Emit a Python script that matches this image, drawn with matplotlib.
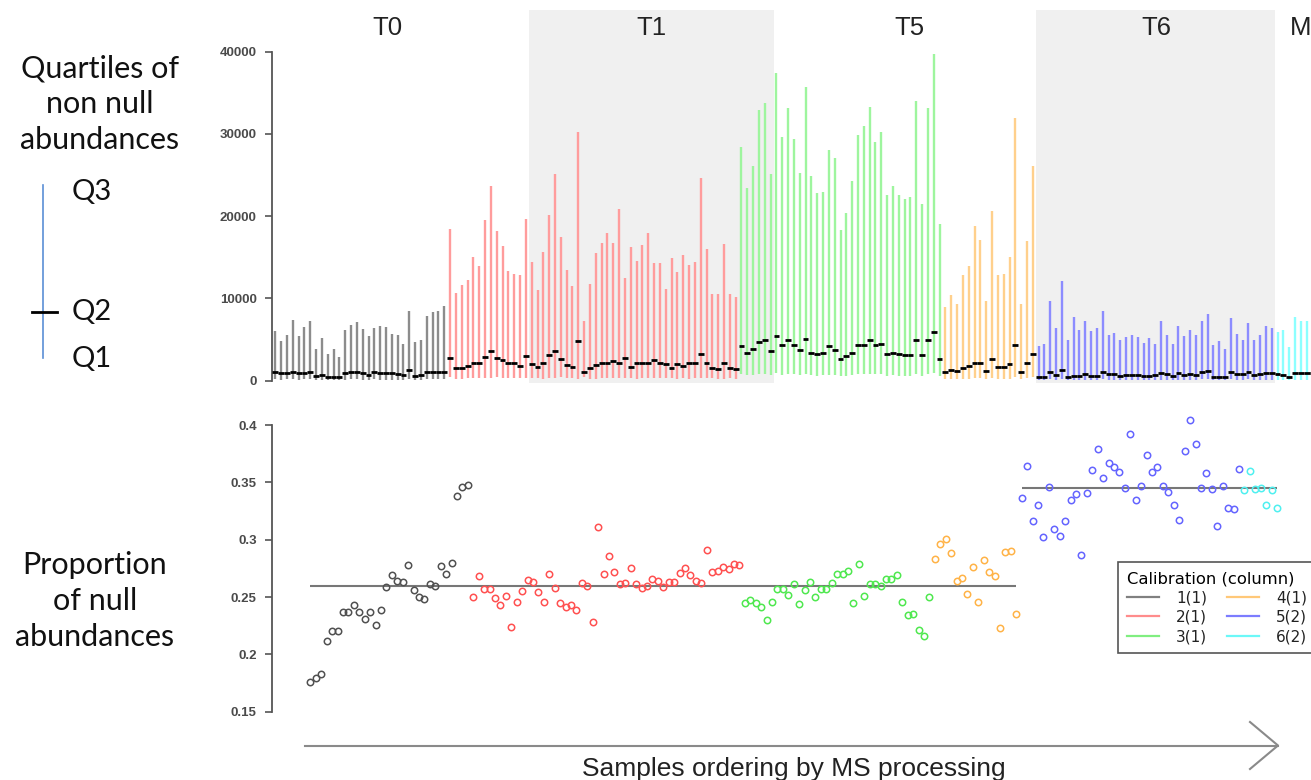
"""Quartiles of non-null abundances (top) and proportion of null
abundances (bottom) per MS sample, coloured by calibration group."""
import matplotlib.pyplot as plt
from matplotlib.lines import Line2D
import numpy as np

W, H = 1311, 780  # output size in pixels (dpi 100)

# ---------------- data ----------------
groups = ["1(1)", "2(1)", "3(1)", "4(1)", "5(2)", "6(2)"]
group_column = [1, 1, 1, 1, 2, 2]          # calibration column of each group
column_level = {1: 0.26, 2: 0.345}         # reference level per column

# Q3 (top of each bar) of non null abundances
q3_g1 = [6000, 4800, 5500, 7400, 5400, 6500, 7200, 3900, 5200, 3200,
         3800, 2900, 6200, 6800, 7100, 6300, 5400, 6400, 6600, 6500,
         5700, 5500, 4500, 8500, 4700, 5000, 7900, 8300, 8500, 9100]
q3_g2 = [18500, 10700, 11600, 12300, 15100, 14000, 19500, 23700, 18200, 16400,
         13300, 13000, 12800, 19600, 14400, 11000, 15600, 20100, 25100, 17500,
         13500, 11500, 30200, 7200, 11800, 15500, 16700, 18000, 16700, 20900,
         12500, 16200, 14500, 16500, 18000, 14300, 14300, 11100, 14900, 13200,
         15300, 14100, 14400, 24600, 16000, 10600, 10600, 16600, 10600, 10200]
q3_g3 = [28400, 23400, 26100, 32900, 33800, 25100, 37400, 29600, 33200, 29400,
         25300, 35700, 24900, 22800, 23000, 28000, 27100, 18300, 20400, 24300,
         29900, 31000, 33300, 29000, 30200, 22600, 23700, 22600, 22100, 22300,
         34000, 21500, 33100, 39700, 19100]
q3_g4 = [8900, 10400, 9300, 12900, 14000, 18800, 17100, 9700, 20600, 12900,
         13000, 15000, 31900, 9300, 17000, 26100]
q3_g5 = [4250, 4450, 9700, 6400, 12100, 4900, 7800, 6200, 7300, 6100,
         6400, 8500, 5500, 5800, 4900, 5300, 5500, 5300, 4600, 5200,
         4500, 7200, 5500, 4500, 6700, 5400, 6200, 5600, 7300, 8100,
         4300, 4800, 3800, 7600, 5700, 5000, 7000, 4900, 5500, 6700, 6400]
q3_g6 = [5900, 6200, 4100, 7700, 7300, 7200, 7000]

# Q2 (median)
q2_g1 = [1000, 900, 950, 1100, 900, 950, 1000, 600, 700, 500,
         450, 400, 900, 1000, 1100, 900, 750, 1000, 900, 900,
         900, 800, 700, 1300, 600, 750, 1100, 1000, 1100, 1100]
q2_g2 = [2700, 1500, 1600, 1800, 2200, 2200, 2900, 3600, 2750, 2500,
         2100, 2100, 1800, 3000, 2000, 1700, 2200, 3100, 3600, 2600,
         1900, 1700, 4800, 1000, 1500, 1900, 2100, 2200, 2350, 2200,
         2750, 1700, 2100, 2100, 2200, 2500, 2100, 2000, 1500, 2000,
         1750, 2100, 2100, 3300, 2200, 1500, 1400, 2200, 1500, 1450]
q2_g3 = [4200, 3400, 3800, 4700, 5000, 3600, 5400, 4300, 4900, 4400,
         3700, 5100, 3400, 3300, 3400, 4200, 3700, 2600, 3000, 3400,
         4300, 4300, 5000, 4300, 4500, 3300, 3400, 3300, 3100, 3100,
         5000, 3100, 4900, 5900, 2600]
q2_g4 = [1000, 1300, 1200, 1500, 1800, 2200, 2100, 1200, 2600, 1700,
         1700, 2000, 4300, 1000, 2200, 3300]
q2_g5 = [400, 400, 1000, 700, 1300, 500, 600, 600, 800, 600,
         600, 1000, 800, 800, 600, 700, 700, 700, 600, 600,
         700, 900, 800, 600, 900, 700, 800, 700, 1100, 1200,
         500, 500, 400, 1000, 800, 800, 1000, 700, 800, 900, 900]
q2_g6 = [800, 700, 500, 900, 900, 900, 900]

# Q1 (bottom of each bar)
q1_g1 = [150, 120, 150, 180, 130, 150, 160, 100, 110, 90,
         90, 80, 140, 150, 160, 140, 120, 150, 140, 140,
         140, 130, 110, 200, 100, 110, 160, 150, 160, 170]
q1_g2 = [400, 250, 260, 280, 300, 320, 330, 380, 420, 350,
         320, 300, 300, 280, 360, 290, 260, 300, 380, 420,
         330, 280, 260, 450, 150, 220, 270, 300, 310, 320,
         300, 350, 250, 300, 300, 310, 330, 300, 290, 230,
         290, 260, 300, 300, 380, 300, 230, 210, 300, 230]
q1_g3 = [780, 650, 700, 800, 850, 650, 900, 750, 820, 760,
         680, 850, 640, 620, 640, 750, 680, 520, 580, 640,
         760, 760, 840, 760, 780, 620, 640, 620, 600, 600,
         840, 600, 820, 950, 520]
q1_g4 = [150, 180, 170, 200, 240, 280, 270, 170, 320, 230,
         230, 260, 500, 150, 280, 400]
q1_g5 = [60, 60, 150, 100, 180, 80, 90, 90, 120, 90,
         90, 150, 120, 120, 90, 100, 100, 100, 90, 90,
         100, 130, 120, 90, 130, 100, 120, 100, 160, 170,
         80, 80, 60, 150, 120, 120, 150, 100, 120, 130, 130]
q1_g6 = [120, 100, 80, 130, 130, 130, 130]

# proportion of null abundances
prop_g1 = [0.176, 0.179, 0.183, 0.212, 0.220, 0.220, 0.237, 0.237, 0.243, 0.237,
           0.231, 0.237, 0.226, 0.239, 0.259, 0.269, 0.264, 0.263, 0.278, 0.256,
           0.250, 0.248, 0.261, 0.260, 0.277, 0.270, 0.280, 0.338, 0.346, 0.348]
prop_g2 = [0.250, 0.268, 0.257, 0.257, 0.249, 0.243, 0.251, 0.224, 0.246, 0.255,
           0.265, 0.263, 0.254, 0.246, 0.270, 0.258, 0.245, 0.241, 0.243, 0.239,
           0.262, 0.260, 0.228, 0.311, 0.270, 0.286, 0.272, 0.261, 0.262, 0.275,
           0.261, 0.258, 0.260, 0.266, 0.264, 0.259, 0.263, 0.263, 0.271, 0.275,
           0.269, 0.264, 0.262, 0.291, 0.272, 0.273, 0.276, 0.274, 0.279, 0.278]
prop_g3 = [0.245, 0.247, 0.245, 0.241, 0.230, 0.246, 0.257, 0.257, 0.252, 0.261,
           0.244, 0.256, 0.263, 0.250, 0.257, 0.257, 0.262, 0.270, 0.270, 0.273,
           0.245, 0.279, 0.251, 0.261, 0.261, 0.260, 0.266, 0.266, 0.269, 0.246,
           0.234, 0.235, 0.221, 0.216, 0.250]
prop_g4 = [0.283, 0.296, 0.301, 0.288, 0.264, 0.267, 0.253, 0.276, 0.246, 0.282,
           0.272, 0.268, 0.223, 0.289, 0.290, 0.235]
prop_g5 = [0.336, 0.364, 0.316, 0.330, 0.302, 0.346, 0.309, 0.303, 0.316, 0.335,
           0.340, 0.287, 0.341, 0.361, 0.379, 0.354, 0.367, 0.363, 0.359, 0.345,
           0.392, 0.335, 0.347, 0.374, 0.359, 0.363, 0.347, 0.342, 0.330, 0.317,
           0.377, 0.404, 0.383, 0.345, 0.358, 0.344, 0.312, 0.347, 0.328, 0.327,
           0.362]
prop_g6 = [0.343, 0.360, 0.344, 0.345, 0.330, 0.343, 0.328]

q1 = [q1_g1, q1_g2, q1_g3, q1_g4, q1_g5, q1_g6]
q2 = [q2_g1, q2_g2, q2_g3, q2_g4, q2_g5, q2_g6]
q3 = [q3_g1, q3_g2, q3_g3, q3_g4, q3_g5, q3_g6]
prop = [prop_g1, prop_g2, prop_g3, prop_g4, prop_g5, prop_g6]

# time points along the processing order
time_labels = ["T0", "T1", "T5", "T6", "M"]
time_label_pos = [19.2, 64.5, 108.9, 151.2, 176.0]
shaded_spans = [(43.5, 85.5), (130.5, 171.5)]   # T1 and T6

# ---------------- styles ----------------
bar_colors = ["#8c8c8c", "#ff9c9c", "#9ef59e", "#ffd08c", "#8c8cff", "#8cffff"]
pt_colors = ["#505050", "#ff5050", "#4fe84f", "#ffb347", "#6464ff", "#4ff0f0"]
legend_colors = ["#808080", "#ff8c8c", "#80ee80", "#ffc878", "#7c7cff", "#6cf8f8"]
AXIS_GREY = "#555555"
TXT_FONT = ["Lato", "DejaVu Sans"]


def fig_box(x0, y0, x1, y1):
    """Pixel box (top-left origin) -> figure fraction rectangle."""
    return [x0 / W, 1 - y1 / H, (x1 - x0) / W, (y1 - y0) / H]


def fx(x):
    return x / W


def fy(y):
    return 1 - y / H


def style_axis(ax, lo, hi, ticks, labels):
    for s in ("top", "right", "bottom"):
        ax.spines[s].set_visible(False)
    ax.spines["left"].set_bounds(lo, hi)
    ax.spines["left"].set_color(AXIS_GREY)
    ax.spines["left"].set_linewidth(1.3)
    ax.set_xticks([])
    ax.set_yticks(ticks)
    ax.set_yticklabels(labels)
    ax.tick_params(axis="y", length=5, width=1.2, color=AXIS_GREY,
                   labelsize=9.5, labelcolor="#4a4a4a", pad=6)
    for lab in ax.get_yticklabels():
        lab.set_fontweight("bold")
        lab.set_family("Liberation Sans")
    ax.patch.set_alpha(0)


fig = plt.figure(figsize=(W / 100, H / 100), dpi=100)

# ---------------- top panel: quartiles ----------------
ax_top = fig.add_axes(fig_box(272, 10, 1311, 383))
ax_top.set_xlim(-0.566, 177.74)
ax_top.set_ylim(-280, 45070)

for a, b in shaded_spans:
    ax_top.axvspan(a, b, color="#f0f0f0", lw=0, zorder=0)

start = 0
for g in range(len(groups)):
    n = len(q3[g])
    x = np.arange(start, start + n)
    ax_top.vlines(x, q1[g], q3[g], colors=bar_colors[g], lw=1.7, zorder=2)
    ax_top.hlines(q2[g], x - 0.5, x + 0.5, colors="black", lw=2.0, zorder=3)
    start += n

yt = [0, 10000, 20000, 30000, 40000]
style_axis(ax_top, 0, 40000, yt, [str(t) for t in yt])

for lab, xp in zip(time_labels, time_label_pos):
    ax_top.text(xp, 0.952, lab, transform=ax_top.get_xaxis_transform(),
                ha="center", va="center", fontsize=18.5, color="#222222",
                family="Liberation Sans", clip_on=False)

# ---------------- bottom panel: proportion of nulls ----------------
ax_bot = fig.add_axes(fig_box(272, 400, 1311, 725))
ax_bot.set_xlim(-7.07, 184.27)
ax_bot.set_ylim(0.1384, 0.4218)

start = 0
col_range = {}
for g in range(len(groups)):
    n = len(prop[g])
    x = np.arange(start, start + n)
    ax_bot.plot(x, prop[g], "o", mfc="none", mec=pt_colors[g], ms=4.6,
                mew=1.1, zorder=3)
    c = group_column[g]
    lo, hi = col_range.get(c, (start, start + n - 1))
    col_range[c] = (min(lo, start), max(hi, start + n - 1))
    start += n

for c, (lo, hi) in col_range.items():
    ax_bot.hlines(column_level[c], lo, hi, colors="#777777", lw=1.5, zorder=2)

ybt = [0.15, 0.2, 0.25, 0.3, 0.35, 0.4]
style_axis(ax_bot, 0.15, 0.4, ybt, [f"{t:g}" for t in ybt])

handles = [Line2D([], [], color=c, lw=1.6) for c in legend_colors]
leg = fig.legend(handles, groups, ncol=2, title="Calibration (column)",
                 loc="upper left", bbox_to_anchor=(fx(1118), fy(562)),
                 borderaxespad=0, frameon=True, fancybox=False,
                 edgecolor="#555555", framealpha=1, fontsize=11,
                 title_fontsize=11.8, handlelength=2.1, handletextpad=1.1,
                 columnspacing=1.3, labelspacing=0.28, borderpad=0.6,
                 alignment="left")
leg.get_frame().set_linewidth(1.2)
for t in leg.get_texts():
    t.set_color("#222222")

# ---------------- processing-order arrow ----------------
arrow_kw = dict(color="#8a8a8a", lw=1.5, transform=fig.transFigure)
fig.add_artist(Line2D([fx(305), fx(1278)], [fy(745.5), fy(745.5)], **arrow_kw))
fig.add_artist(Line2D([fx(1250), fx(1278), fx(1250)],
                      [fy(722), fy(745.5), fy(769)], **arrow_kw))
fig.text(fx(794), fy(776), "Samples ordering by MS processing",
         ha="center", va="baseline", fontsize=19, color="#222222",
         family=["Liberation Sans Narrow", "Liberation Sans"])

# ---------------- left-hand annotations ----------------
for line, yb in zip(["Quartiles of", "non null", "abundances"], [77, 113, 149]):
    fig.text(fx(100), fy(yb), line, ha="center", va="baseline",
             fontsize=22, color="#111111", family=TXT_FONT)
for line, yb in zip(["Proportion", "of null", "abundances"], [574, 610, 646]):
    fig.text(fx(95), fy(yb), line, ha="center", va="baseline",
             fontsize=22, color="#111111", family=TXT_FONT)

fig.add_artist(Line2D([fx(43), fx(43)], [fy(185), fy(358)],
                      color="#5b8fd6", lw=1.2, transform=fig.transFigure))
fig.add_artist(Line2D([fx(32), fx(57)], [fy(312), fy(312)],
                      color="black", lw=2.0, transform=fig.transFigure))
for lab, yb in zip(["Q3", "Q2", "Q1"], [200, 320, 367]):
    fig.text(fx(72), fy(yb), lab, ha="left", va="baseline",
             fontsize=21, color="#111111", family=TXT_FONT)

fig.savefig("out.png", dpi=100)
